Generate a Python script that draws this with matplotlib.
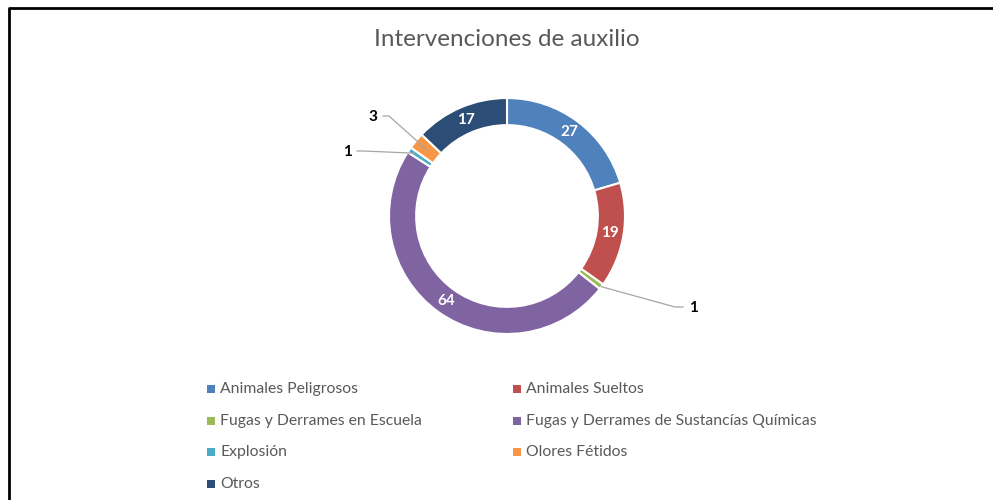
import numpy as np
import matplotlib
matplotlib.use("Agg")
import matplotlib.pyplot as plt

categories = ["Animales Peligrosos", "Animales Sueltos", "Fugas y Derrames en Escuela",
              "Fugas y Derrames de Sustancías Químicas", "Explosión", "Olores Fétidos", "Otros"]
values = [27, 19, 1, 64, 1, 3, 17]
colors = ["#4F81BD", "#C0504D", "#9BBB59", "#8064A2", "#4BACC6", "#F79646", "#2C4D75"]
title = "Intervenciones de auxilio"

FONT = ["Lato", "DejaVu Sans"]
W, H = 993, 500
fig = plt.figure(figsize=(W / 100, H / 100), dpi=100)

# pie
cx, cy, R = 507, 216, 118
ax = fig.add_axes([(cx - R) / W, (H - cy - R) / H, 2 * R / W, 2 * R / H])
ring = 0.23
wedges, _ = ax.pie(values, colors=colors, startangle=90, counterclock=False, radius=1,
                   wedgeprops=dict(width=ring, edgecolor="white", linewidth=1.5))
ax.set_aspect("auto")
ax.set_xlim(-1, 1)
ax.set_ylim(-1, 1)
ax.axis("off")

ax0 = fig.add_axes([0, 0, 1, 1], zorder=5)
ax0.set_xlim(0, W)
ax0.set_ylim(H, 0)
ax0.axis("off")
ax0.patch.set_alpha(0)

# frame
ax0.plot([8.5, 8.5, W + 5], [H + 5, 7.5, 7.5], color="black", lw=2, solid_capstyle="butt")

# title
ax0.text(507, 40, title, ha="center", va="center", fontsize=17.5, color="#595959",
         family=FONT)

def px(r, ang):
    a = np.deg2rad(ang)
    return cx + r * R * np.cos(a), cy - r * R * np.sin(a)

# outside label layout: index -> (text x, text y, anchor radius)
outside = {2: (693, 308, 1.0), 4: (347, 152, 0.95), 5: (373, 117, 0.88)}
for i, (w, v) in enumerate(zip(wedges, values)):
    mid = (w.theta1 + w.theta2) / 2
    if i in outside:
        tx, ty, ar = outside[i]
        axp, ayp = px(ar, mid)
        if tx > cx:
            ex, ey = tx - 18, ty - 1
            hx = tx - 10
        else:
            ex, ey = tx + 16, ty - 1
            hx = tx + 10
        ax0.plot([axp, ex, hx], [ayp, ey, ey], color="#A6A6A6", lw=0.9)
        ax0.text(tx, ty, str(v), ha="center", va="center", fontsize=11, fontweight="bold",
                 color="black", family=FONT)
    else:
        lx, ly = px(1 - ring / 2, mid)
        ax0.text(lx, ly, str(v), ha="center", va="center", fontsize=11, fontweight="bold",
                 color="white", family=FONT)

# legend
for i, (name, c) in enumerate(zip(categories, colors)):
    row, col = divmod(i, 2)
    x = 211 + col * 306
    y = 389 + row * 31.5
    ax0.scatter([x], [y], marker="s", s=26, color=c, linewidths=0)
    ax0.text(x + 9, y, name, ha="left", va="center", fontsize=11.3, color="#595959", family=FONT)

fig.savefig("out.png", dpi=100)
